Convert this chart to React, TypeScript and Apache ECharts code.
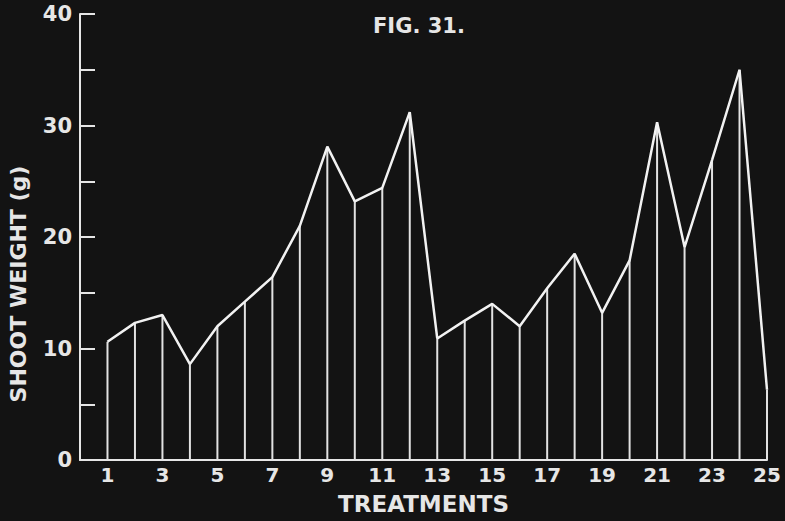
import React, { useEffect, useRef } from "react";
import * as echarts from "echarts";

const treatments = [1, 2, 3, 4, 5, 6, 7, 8, 9, 10, 11, 12, 13, 14, 15, 16, 17, 18, 19, 20, 21, 22, 23, 24, 25];
const shootWeight = [10.6, 12.3, 13.0, 8.6, 12.0, 14.2, 16.4, 21.0, 28.1, 23.2, 24.4, 31.2, 10.9, 12.5, 14.0, 12.0, 15.4, 18.5, 13.2, 17.9, 30.3, 19.1, 26.9, 35.0, 6.3];
const yTickLabels = [0, 10, 20, 30, 40];
const xTickLabels = [1, 3, 5, 7, 9, 11, 13, 15, 17, 19, 21, 23, 25];

const FG = "#e6e6e6";
const BG = "#131313";
const FONT = "'DejaVu Sans', sans-serif";

export default function App() {
  const ref = useRef<HTMLDivElement>(null);
  useEffect(() => {
    if (!ref.current) return;
    const chart = echarts.init(ref.current, null, { renderer: "svg" });
    const pts = treatments.map((t, i) => [t, shootWeight[i]]);
    chart.setOption({
      animation: false,
      backgroundColor: BG,
      title: {
        text: "FIG. 31.",
        left: 373,
        top: 15,
        padding: 0,
        textStyle: { color: FG, fontFamily: FONT, fontWeight: "bold", fontSize: 21 },
      },
      grid: { left: 80, right: 18, top: 14, bottom: 61 },
      xAxis: {
        type: "value",
        min: 0,
        max: 25,
        interval: 1,
        name: "TREATMENTS",
        nameLocation: "middle",
        nameGap: 32,
        nameTextStyle: { color: FG, fontFamily: FONT, fontWeight: "bold", fontSize: 23 },
        axisLine: { show: true, onZero: false, lineStyle: { color: FG, width: 2 } },
        axisTick: { show: false },
        splitLine: { show: false },
        axisLabel: {
          color: FG,
          fontFamily: FONT,
          fontWeight: "bold",
          fontSize: 20,
          margin: 5,
          formatter: (v: number) => (xTickLabels.includes(v) ? String(v) : ""),
        },
      },
      yAxis: {
        type: "value",
        min: 0,
        max: 40,
        interval: 5,
        axisLine: { show: true, lineStyle: { color: FG, width: 2 } },
        axisTick: { show: true, inside: true, length: 15, lineStyle: { color: FG, width: 2 } },
        splitLine: { show: false },
        axisLabel: {
          color: FG,
          fontFamily: FONT,
          fontWeight: "bold",
          fontSize: 21,
          margin: 8,
          formatter: (v: number) => (yTickLabels.includes(v) ? String(v) : ""),
        },
      },
      graphic: [
        {
          type: "text",
          x: 18,
          y: 284,
          rotation: Math.PI / 2,
          style: {
            text: "SHOOT WEIGHT (g)",
            fill: FG,
            font: `bold 22px ${FONT}`,
            align: "center",
            verticalAlign: "middle",
          },
        },
      ],
      series: [
        {
          type: "custom",
          data: pts,
          renderItem: (params: any, api: any) => {
            const x = api.value(0);
            const y = api.value(1);
            const top = api.coord([x, y]);
            const bot = api.coord([x, 0]);
            return {
              type: "line",
              shape: { x1: top[0], y1: top[1], x2: bot[0], y2: bot[1] },
              style: { stroke: "#e2e2e2", lineWidth: 2 },
            };
          },
          z: 1,
        },
        {
          type: "line",
          data: pts,
          symbol: "none",
          lineStyle: { color: "#f2f2f2", width: 2.5 },
          z: 2,
        },
      ],
    });
    return () => chart.dispose();
  }, []);
  return <div ref={ref} style={{ width: 785, height: 521, position: "fixed", left: 0, top: 0 }} />;
}
